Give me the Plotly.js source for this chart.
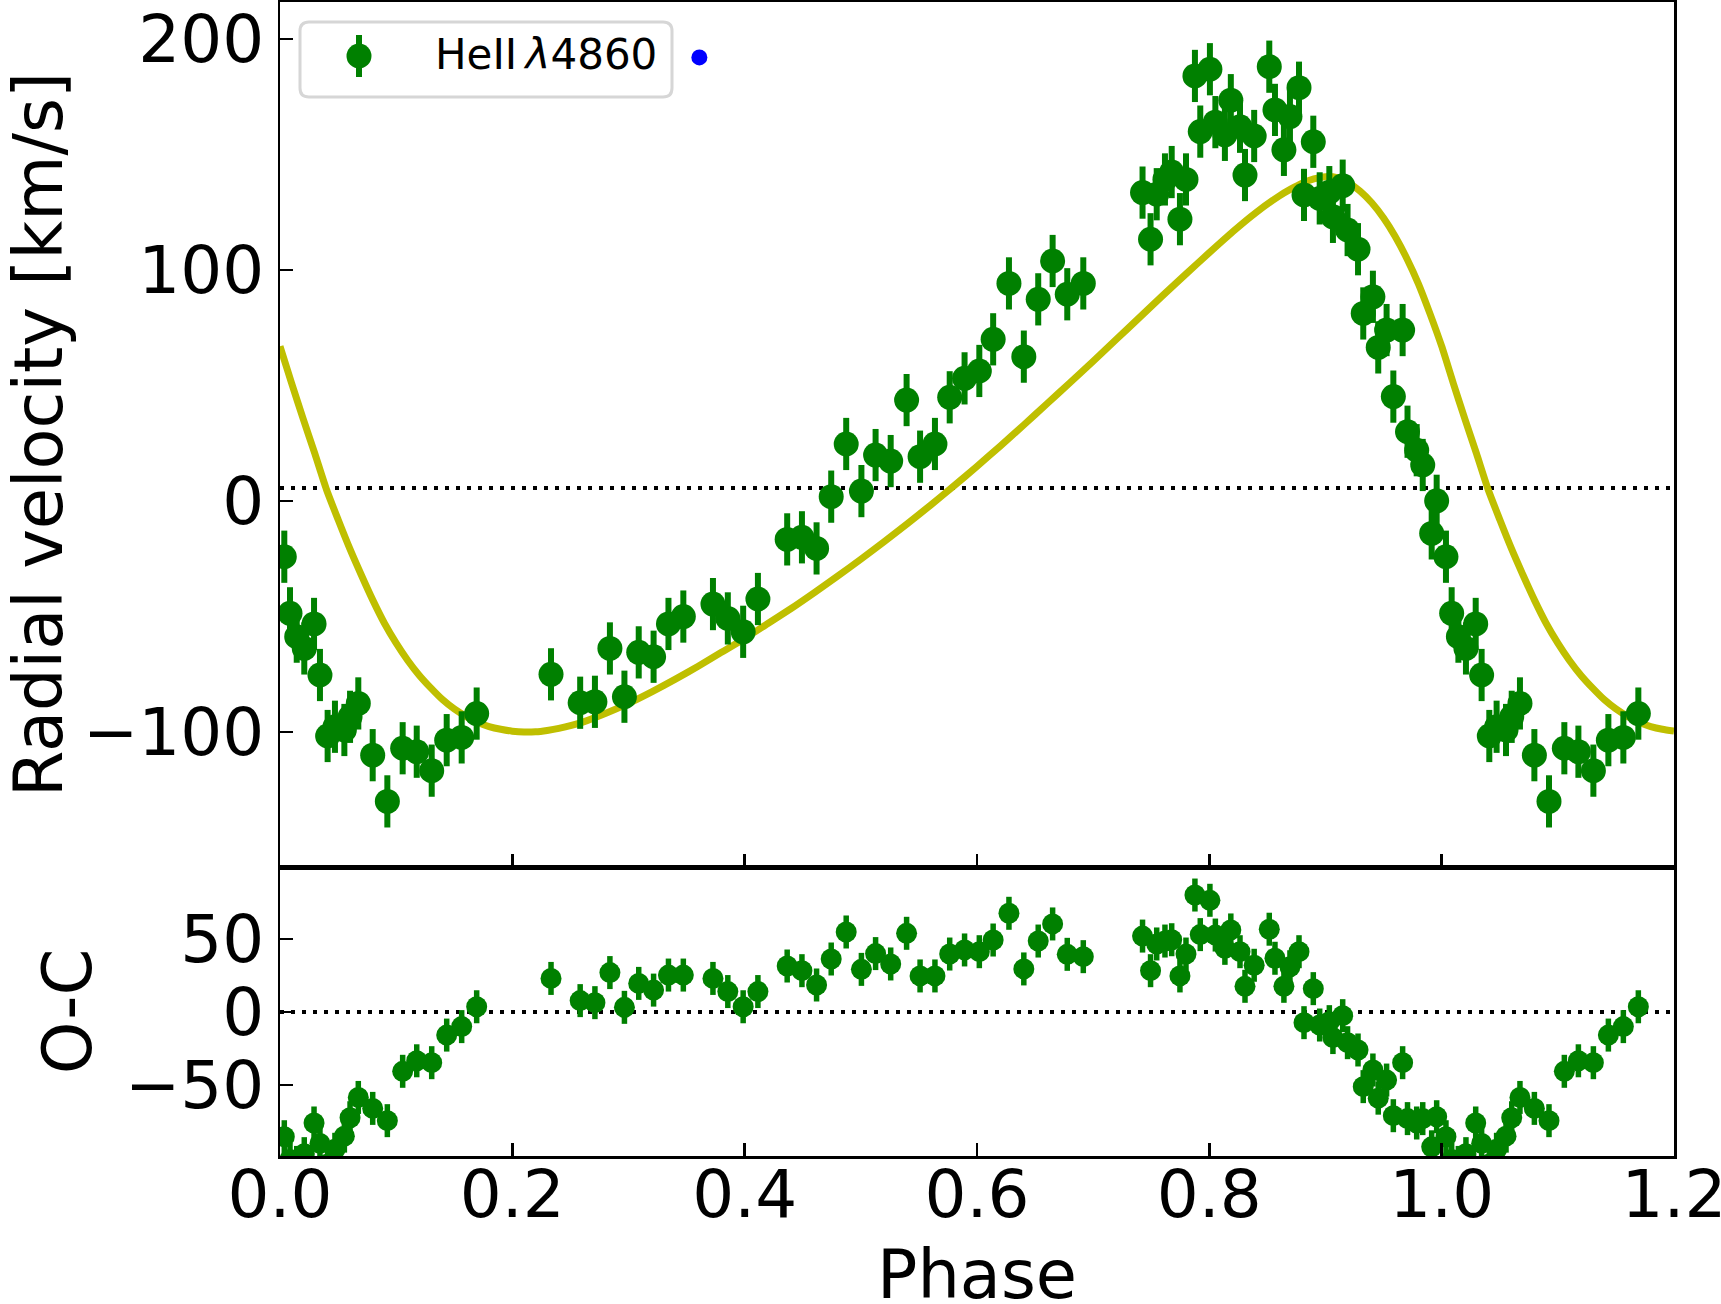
<!DOCTYPE html>
<html>
<head>
<meta charset="utf-8">
<script src="https://cdn.plot.ly/plotly-3.0.1.min.js"></script>
<style>html,body{margin:0;padding:0;background:#fff;}#plot{width:1721px;height:1304px;}</style>
</head>
<body>
<div id="plot"></div>
<script>
// ---- data ----
const phase = [0.0037,0.0086,0.0144,0.0209,0.0293,0.0344,0.0410,0.0473,0.0554,0.0603,0.0674,0.0798,0.0924,0.1056,0.1177,0.1306,0.1435,0.1564,0.1693,
  0.2333,0.2584,0.2711,0.2840,0.2965,0.3088,0.3216,0.3344,0.3472,0.3727,0.3855,0.3987,0.4114,
  0.4366,0.4493,0.4619,0.4745,0.4874,0.5005,0.5127,0.5257,0.5394,0.5510,0.5638,0.5765,0.5893,0.6020,0.6139,0.6275,0.6403,0.6527,0.6651,0.6777,0.6915,
  0.7425,0.7494,0.7547,0.7618,0.7676,0.7747,0.7799,0.7876,0.7922,0.8005,0.8052,0.8134,0.8185,0.8264,0.8307,0.8386,0.8516,0.8565,0.8642,0.8694,0.8772,0.8895,
  0.8815,0.8950,0.9033,0.9148,0.9064,0.9190,0.9280,0.9408,0.9325,0.9454,0.9526,0.9664,0.9584,0.9706,0.9785,0.9837,0.9914,0.9957];
const rv = [-24.1,-48.6,-58.7,-63.8,-53.2,-75.3,-101.7,-97.7,-99.1,-93.4,-87.6,-110,-130,-107,-108.5,-116.7,-103.5,-102.3,-92,
  -75,-87.3,-86.9,-63.8,-84.7,-65.5,-67.4,-53.2,-50,-44.6,-50.8,-56.6,-42.4,
  -16.6,-15.7,-20.5,1.9,24.7,4.3,19.9,17.3,43.7,19.2,24.7,44.9,53.1,56.3,70,94.2,62.5,87.3,103.9,89.5,94.2,
  133.5,113.3,132.8,139.2,142.4,122,139.2,184,159.9,186.9,164,158.5,173.5,162,141.1,158,188,169.3,152,166.4,178.9,155.5,
  132.5,131,133.7,136.5,123,117.3,109,88.4,81.2,66.5,74,74,45.2,30,22,15.6,-14,0.1];
const oc = [-85.4,-101,-103,-97,-76,-90,-104,-94,-85,-72.4,-58.5,-66,-74.4,-40.6,-33.4,-34.7,-15.8,-10,3.6,
  23,7.8,6.4,27,3.2,19.6,15,25.3,25.3,23,14,3.6,14,
  31.5,28.3,18.5,36.3,54.8,29.2,40,32.9,53.9,24.7,24.7,39.7,42.5,41.3,49.3,67.6,29.5,48.6,60.3,39.5,37.9,
  52,28.3,46.6,48.6,49.5,24.7,39.7,80.1,53,76.5,52.7,43.6,56.2,41.3,17.6,32,56.7,36.8,17.6,31,41.3,16,
  -7.3,-8.9,-6.6,-2.5,-17.5,-21,-26,-39.7,-51.1,-59,-46.6,-34.7,-71,-73,-76,-73,-92.3,-71.7];
const rvErr = 11.3;   // km/s, symmetric error bars
const ocErr = 11.3;

// model radial-velocity curve
const modelPhase = [0.00,0.01,0.02,0.03,0.04,0.05,0.06,0.07,0.08,0.09,0.10,0.11,0.12,0.13,0.14,0.15,0.16,0.17,0.18,0.19,0.20,
  0.21,0.22,0.23,0.24,0.26,0.28,0.30,0.32,0.34,0.36,0.38,0.40,0.42,0.44,0.46,0.48,0.50,0.52,0.54,0.56,0.58,0.60,
  0.62,0.64,0.66,0.68,0.70,0.72,0.74,0.76,0.78,0.80,0.82,0.84,0.86,0.87,0.88,0.89,0.90,0.91,0.92,0.93,0.94,0.95,0.96,0.97,0.98,0.99];
const modelRV = [67,51,35.5,20.5,5,-8,-20.5,-32,-43,-53,-61.5,-69,-75.5,-81,-86,-90,-93.2,-95.8,-97.6,-98.8,-99.6,
  -100,-99.9,-99.3,-98.4,-95.8,-92,-87.6,-82.6,-77.2,-71.5,-65.5,-59.5,-53,-46.5,-39.6,-32.5,-25.2,-17.6,-9.8,-1.8,6.5,15,
  23.8,32.8,42,51.2,60.5,70,79.5,89,98.3,107.5,116.5,124.8,132,135,137.6,139.4,140.4,140,137.8,134,129,122.5,114.5,105,94,81];
const gammaRV = 5.6;       // systemic velocity (dotted line, top panel)
const ocZero = 0;          // dotted line, bottom panel
const extraX = [0.361], extraY = [192];   // lone blue dot beside the legend

const xTicks = [0,0.2,0.4,0.6,0.8,1.0,1.2];
const xTickText = ['0.0','0.2','0.4','0.6','0.8','1.0','1.2'];
const rvTicks = [-100,0,100,200];
const ocTicks = [-50,0,50];
const legendLabel = 'HeII\u2009<i>λ</i>4860';
const xTitle = 'Phase';

// phases are shown over 0..1.2 : points with phase < 0.2 repeated one cycle later
function wrap(xs, ys) {
  const X = xs.slice(), Y = ys.slice();
  xs.forEach((p, i) => { if (p <= 0.2) { X.push(p + 1); Y.push(ys[i]); } });
  return [X, Y];
}
const [dX, dRV] = wrap(phase, rv);
const [, dOC] = wrap(phase, oc);
const [mX, mRV] = wrap(modelPhase, modelRV);

const GREEN = '#008000', OLIVE = '#bfbf00';
const FONT = 'DejaVu Sans';
const TICK_SIZE = 66, TITLE_SIZE = 67;

// figure geometry (pixels)
const L = 280, R = 47, T = 2, B = 148, W = 1721, H = 1304;
const plotW = W - L - R, plotH = H - T - B;
const split = (1156 - 867) / plotH;
const px = x => (x - L) / plotW;
const py = y => (H - B - y) / plotH;

const traces = [
  { x: mX, y: mRV, xaxis: 'x2', yaxis: 'y2', mode: 'lines', line: { color: OLIVE, width: 7, shape: 'spline', smoothing: 0.6 }, showlegend: false, hoverinfo: 'skip' },
  { x: dX, y: dRV, xaxis: 'x2', yaxis: 'y2', mode: 'markers', name: 'HeII λ4860',
    marker: { color: GREEN, size: 25 },
    error_y: { type: 'constant', value: rvErr, color: GREEN, thickness: 6, width: 0 }, showlegend: false },
  { x: extraX, y: extraY, xaxis: 'x2', yaxis: 'y2', mode: 'markers', marker: { color: '#0000ff', size: 16 }, showlegend: false },
  { x: dX, y: dOC, xaxis: 'x', yaxis: 'y', mode: 'markers',
    marker: { color: GREEN, size: 21 },
    error_y: { type: 'constant', value: ocErr, color: GREEN, thickness: 5.5, width: 0 }, showlegend: false }
];

const axBase = {
  ticks: 'inside', ticklen: 13, tickwidth: 2.5, tickcolor: '#000',
  showline: true, mirror: true, linecolor: '#000', linewidth: 2.5,
  showgrid: false, zeroline: false,
  tickfont: { family: FONT, size: TICK_SIZE, color: '#000' }
};

// hand-made legend box (rounded rectangle) in paper coordinates
function roundRect(x0, y0, x1, y1, r) {
  const rx = r / plotW, ry = r / plotH;
  const X0 = px(x0), X1 = px(x1), Y0 = py(y0), Y1 = py(y1);
  return `M ${X0 + rx} ${Y0} L ${X1 - rx} ${Y0} Q ${X1} ${Y0} ${X1} ${Y0 - ry} L ${X1} ${Y1 + ry} Q ${X1} ${Y1} ${X1 - rx} ${Y1} L ${X0 + rx} ${Y1} Q ${X0} ${Y1} ${X0} ${Y1 + ry} L ${X0} ${Y0 - ry} Q ${X0} ${Y0} ${X0 + rx} ${Y0} Z`;
}

const layout = {
  width: W, height: H,
  margin: { l: L, r: R, t: T, b: B },
  paper_bgcolor: '#fff', plot_bgcolor: '#fff',
  font: { family: FONT, color: '#000' },
  showlegend: false,
  xaxis: Object.assign({}, axBase, {
    domain: [0, 1], range: [0, 1.2], anchor: 'y', tickvals: xTicks, ticktext: xTickText,
    ticklabeloverflow: 'allow', ticklabelstandoff: -21
  }),
  xaxis2: Object.assign({}, axBase, {
    domain: [0, 1], range: [0, 1.2], anchor: 'y2', matches: 'x', tickvals: xTicks, showticklabels: false
  }),
  yaxis: Object.assign({}, axBase, {
    domain: [0, split], range: [-98.6, 99.3], anchor: 'x', tickvals: ocTicks,
    ticklabelstandoff: 0,
    title: { text: 'O-C', font: { family: FONT, size: TITLE_SIZE }, standoff: 12 }
  }),
  yaxis2: Object.assign({}, axBase, {
    domain: [split, 1], range: [-158.4, 216], anchor: 'x2', tickvals: rvTicks,
    ticklabelstandoff: 0,
    title: { text: 'Radial velocity [km/s]', font: { family: FONT, size: TITLE_SIZE }, standoff: 0 }
  }),
  shapes: [
    { type: 'line', xref: 'x2 domain', yref: 'y2', x0: 0, x1: 1, y0: gammaRV, y1: gammaRV, layer: 'below',
      line: { color: '#000', width: 4, dash: '4px,7px' } },
    { type: 'line', xref: 'x domain', yref: 'y', x0: 0, x1: 1, y0: ocZero, y1: ocZero, layer: 'below',
      line: { color: '#000', width: 4, dash: '4px,7px' } },
    { type: 'path', xref: 'paper', yref: 'paper', path: roundRect(300, 22, 672, 97, 9),
      fillcolor: 'rgba(255,255,255,0.8)', line: { color: '#d6d6d6', width: 3 } },
    { type: 'line', xref: 'paper', yref: 'paper', x0: px(359), x1: px(359), y0: py(35), y1: py(77),
      line: { color: GREEN, width: 6 } },
    { type: 'circle', xref: 'paper', yref: 'paper', xsizemode: 'pixel', ysizemode: 'pixel',
      xanchor: px(359), yanchor: py(56), x0: -12.5, x1: 12.5, y0: -12.5, y1: 12.5,
      fillcolor: GREEN, line: { width: 0 } }
  ],
  annotations: [
    { xref: 'paper', yref: 'paper', x: px(433), y: py(55), xanchor: 'left', yanchor: 'middle',
      text: legendLabel, showarrow: false, font: { family: FONT, size: 42, color: '#000' } },
    // x-axis title, placed as in the reference (an axis title would be squeezed into the margin)
    { xref: 'paper', yref: 'paper', x: 0.5, y: py(1275), xanchor: 'center', yanchor: 'middle',
      text: xTitle, showarrow: false, font: { family: FONT, size: TITLE_SIZE, color: '#000' } }
  ]
};

Plotly.newPlot('plot', traces, layout, { staticPlot: true, displayModeBar: false });
</script>
</body>
</html>
